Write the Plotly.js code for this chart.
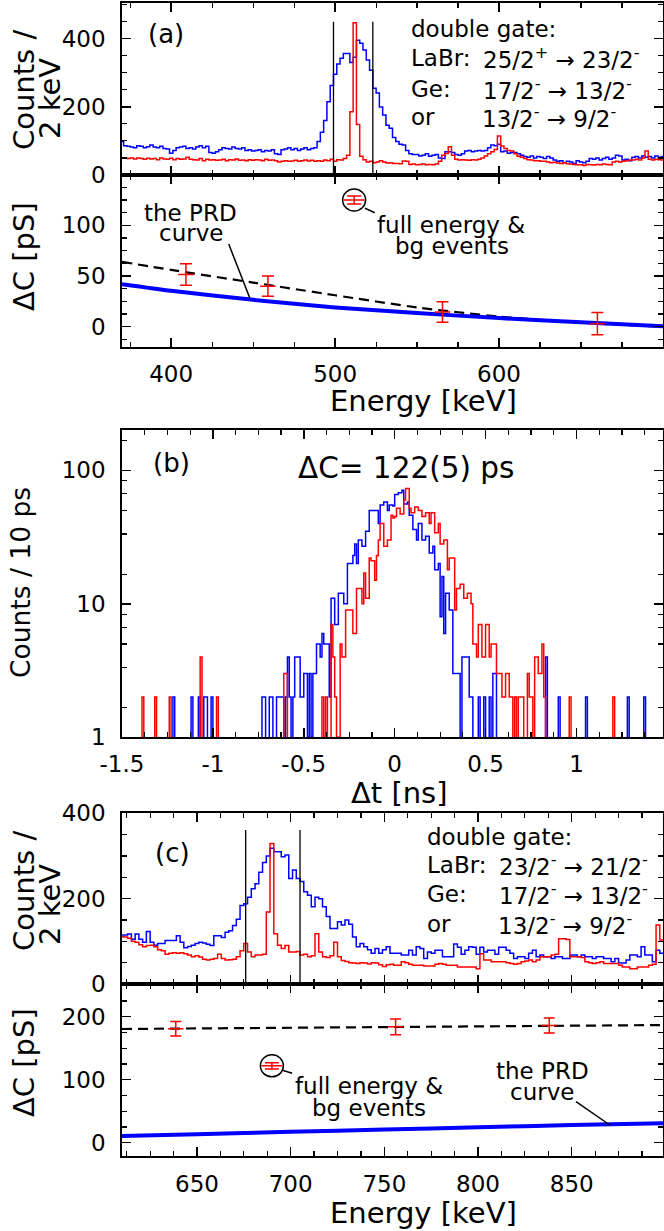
<!DOCTYPE html>
<html><head><meta charset="utf-8">
<script src="https://cdn.plot.ly/plotly-3.0.1.min.js"></script>
<style>html,body{margin:0;padding:0;background:#fff}#plot{width:664px;height:1231px}</style>
</head><body><div id="plot"></div><script>
// ---------------- DATA ----------------
// Panel (a): energy spectra, 2 keV bins, first bin lower edge 369 keV
const binStartA = 369, binWidthA = 2;
const blueA = [98,86,84,82,80,86,84,80,83,88, 82,80,84,78,76,64,72,80,82,84,
 78,80,76,82,86,80,84,66,64,68, 74,80,78,76,82,78,76,80,72,74,
 70,72,74,68,72,70,74,62,60,74, 76,80,74,78,72,76,80,74,78,80,
 98,125,160,215,262,295,325,342,356,356, 330,345,395,386,366,337,307,254,240,199,
 176,146,137,110,98,90,88,72,62,60, 60,56,58,62,55,58,60,50,48,68,
 68,66,60,58,62,70,72,68,70,72, 70,72,80,88,86,90,68,70,64,66,
 66,62,58,54,52,56,50,54,52,48, 54,50,44,40,42,36,40,38,34,42,
 38,36,40,48,46,50,44,48,52,46, 50,58,56,44,46,42,52,54,50,56,
 52,54,50,56,52,54];
const redA = [49,50,48,50,47,50,48,46,49,47, 48,45,50,47,46,49,45,48,46,47,
 52,46,45,44,48,42,46,44,45,43, 44,46,42,45,44,47,43,44,42,45,
 43,45,44,42,46,43,44,42,38,40, 42,40,41,43,40,42,44,41,43,40,
 42,40,44,42,46,40,45,44,48,58, 185,446,148,55,45,38,40,36,38,42,
 38,35,36,34,34,33,41,40,31,32, 30,31,32,30,31,30,32,40,58,63,
 83,58,46,44,45,44,43,45,44,46, 50,56,62,68,75,114,85,78,72,70,
 62,55,52,48,45,44,42,42,40,40, 38,36,37,35,34,36,33,32,31,30,
 30,28,31,30,29,31,30,32,31,30, 38,40,38,40,42,44,44,46,44,50,
 70,46,44,46,45,44];
const gatesA = [499, 523];

// Panel (a) lower: Delta C vs energy
const ptsA_E = [409, 459, 565.5, 660];
const ptsA_dC = [51.5, 40, 14.5, 3];
const ptsA_err = [10.5, 10, 10, 11];
const fullA_E = [511.6], fullA_dC = [125], fullA_err = [4];
const fitA_E = [370, 400, 450, 500, 550, 600, 650, 700];
const fitA = [64, 56, 43.5, 31, 19, 10, 4, 0];
const prdA = [42, 35.5, 26.5, 19, 13.5, 8.5, 4.5, 0.5];

// Panel (b): time differences, 10 ps bins from -1.5 ns
const binStartB = -1.5, binWidthB = 0.01;
const blueB = [0,0,0,0,0,0,0,0,0,0, 0,0,0,0,0,0,0,0,0,0,
 0,0,0,0,0,0,0,0,2,0, 0,0,0,0,0,0,0,0,2,0,
 0,0,2,0,0,2,2,0,0,2, 0,0,0,0,0,0,0,0,0,0,
 0,0,0,0,0,0,0,0,0,0, 0,0,0,0,0,0,0,2,2,0,
 0,2,2,0,0,2,2,2,2,0, 2,4,2,0,2,4,4,4,2,2,
 3,3,1,3,1,3,3,5,5,4, 6,5,5,5,2,11,11,7,7,12,
 12,12,10,10,20,20,20,23,28,20, 30,30,27,27,35,35,50,50,50,50,
 50,40,55,55,58,58,50,55,55,54, 66,66,68,68,71,56,56,58,46,46,
 36,36,30,40,40,30,30,32,32,24, 24,27,18,18,20,8,16,6,12,12,
 9,9,3,3,3,3,0,4,4,4, 4,2,2,0,0,0,2,0,0,2,
 0,0,2,0,3,3,0,0,0,0, 0,0,0,0,0,0,0,0,0,0,
 0,0,0,0,0,0,0,0,0,0, 0,0,0,4,0,0,0,0,0,0,
 2,0,0,0,0,0,0,0,0,0, 0,0,0,0,0,2,0,0,0,0,
 0,0,0,0,0,0,0,0,0,0, 0,0,0,0,0,0,0,0,2,0,
 0,0,0,0,0,0,0,2,0,0, 0,0,0,0,0,0,0,0];
const redB = [0,0,0,0,0,0,0,0,0,0, 0,2,0,0,0,0,0,0,2,0,
 0,0,0,0,0,0,2,0,0,0, 0,0,0,0,0,0,0,0,0,0,
 0,0,0,4,0,0,0,0,0,0, 0,0,2,0,0,0,0,0,0,0,
 0,0,0,0,0,0,0,0,0,0, 0,0,0,0,0,0,0,0,0,0,
 0,0,0,0,0,0,0,0,0,3, 3,0,0,0,0,0,0,0,0,0,
 0,0,0,0,0,0,0,0,0,0, 2,0,2,0,0,7,4,2,1,1,
 5,4,4,9,9,9,9,6,6,13, 13,13,10,17,11,11,22,21,21,15,
 23,30,40,40,27,27,30,30,46,44, 45,52,52,47,47,60,73,73,52,48,
 48,53,53,50,50,45,45,48,48,40, 48,48,34,34,40,28,28,30,30,18,
 22,22,22,9,13,13,14,14,11,11, 12,12,10,5,5,4,7,7,4,4,
 7,7,4,5,5,5,3,3,3,2, 2,3,3,2,2,0,2,0,2,2,
 2,0,0,3,2,2,0,4,4,3, 3,5,2,0,0,0,0,0,0,0,
 0,0,0,0,0,0,2,0,0,0, 0,0,0,0,0,0,0,0,0,0,
 0,0,0,0,0,0,0,0,0,0, 2,0,0,0,0,0,0,0,0,0,
 0,0,0,0,0,0,0,0,0,0, 0,0,0,0,0,0,0,0];

// Panel (c): energy spectra, 2 keV bins from 609 keV
const binStartC = 609, binWidthC = 2;
const blueC = [115,115,117,105,117,105,98,123,98,91, 95,95,102,102,102,113,98,85,88,91,
 95,98,96,93,90,113,113,109,121,125, 137,152,184,188,203,223,235,262,285,300,
 318,310,310,298,302,247,267,247,240,216, 208,181,203,200,181,158,130,130,146,138,
 150,140,110,87,95,87,80,72,83,72, 80,87,72,72,72,68,68,79,68,87,
 83,60,75,72,79,79,64,64,64,94, 86,70,79,87,86,70,86,75,79,79,
 70,86,86,79,72,60,64,64,60,72, 79,64,68,64,64,60,64,64,60,60,
 68,68,64,68,64,64,60,64,64,60, 60,52,60,49,49,56,68,68,64,87,
 68,68,52,79,72];
const redC = [111,110,107,100,98,92,87,90,91,87, 80,78,70,72,73,72,73,71,68,64,
 66,63,58,56,58,60,70,60,56,57, 58,64,78,95,75,64,68,68,70,169,
 329,118,91,83,90,75,75,76,68,70, 64,66,118,75,64,62,66,98,64,55,
 53,50,49,48,50,49,47,50,49,45, 41,45,46,44,44,52,50,46,44,44,
 44,42,42,42,46,48,46,44,44,44, 40,40,40,40,40,36,71,56,56,52,
 52,52,52,50,48,46,48,52,54,56, 52,56,64,64,64,68,70,106,106,104,
 64,64,64,62,52,50,48,50,52,48, 48,48,48,44,40,40,36,36,40,40,
 40,44,46,138,103];
const gatesC = [676, 705];

// Panel (c) lower
const ptsC_E = [638.7, 756, 838];
const ptsC_dC = [181, 184, 186];
const ptsC_err = [11.5, 12.5, 12];
const fullC_E = [690], fullC_dC = [122], fullC_err = [5];
const fitC_E = [610, 900];
const fitC = [180.5, 186.8];
const prdC_E = [610, 650, 700, 750, 800, 850, 900];
const prdC = [10.5, 13.5, 17.3, 21, 24.5, 28, 31];

// ---------------- DRAWING ----------------
const W = 664, H = 1231;
const X = p => p / W, Y = p => 1 - p / H;
const FONT = 'DejaVu Sans';
const BLUE = '#0000ff', RED = '#ff0000';

function steps(e0, w, c, floor) {
  const x = [], y = [];
  c.forEach((v, i) => { x.push(e0 + i * w); y.push(floor === undefined ? v : Math.max(v, floor)); });
  x.push(e0 + c.length * w); y.push(y[y.length - 1]);
  return {x, y};
}
function hist(e0, w, c, color, xa, ya, floor) {
  const s = steps(e0, w, c, floor);
  return {type:'scatter', mode:'lines', x:s.x, y:s.y, xaxis:xa, yaxis:ya,
    line:{color:color, width:1.5, shape:'hv'}, hoverinfo:'skip'};
}
function points(E, v, err, xa, ya, size, cap) {
  return {type:'scatter', mode:'markers', x:E, y:v, xaxis:xa, yaxis:ya,
    marker:{symbol:'line-ew-open', size:size, color:RED, line:{color:RED, width:1.5}},
    error_y:{type:'data', array:err, visible:true, color:RED, thickness:1.5, width:cap}};
}
function curve(E, v, xa, ya, color, width, dash) {
  return {type:'scatter', mode:'lines', x:E, y:v, xaxis:xa, yaxis:ya,
    line:{color:color, width:width, dash:dash || 'solid', shape:'spline', smoothing:0.6}};
}

const traces = [
  hist(binStartA, binWidthA, blueA, BLUE, 'x', 'y'),
  hist(binStartA, binWidthA, redA, RED, 'x', 'y'),
  curve(fitA_E, fitA, 'x2', 'y2', '#000', 2.2, '10px,6px'),
  curve(fitA_E, prdA, 'x2', 'y2', BLUE, 4),
  points(ptsA_E, ptsA_dC, ptsA_err, 'x2', 'y2', 11, 6),
  points(fullA_E, fullA_dC, fullA_err, 'x2', 'y2', 15, 7),
  hist(binStartB, binWidthB, blueB, BLUE, 'x3', 'y3', 0.3),
  hist(binStartB, binWidthB, redB, RED, 'x3', 'y3', 0.3),
  hist(binStartC, binWidthC, blueC, BLUE, 'x4', 'y4'),
  hist(binStartC, binWidthC, redC, RED, 'x4', 'y4'),
  curve(fitC_E, fitC, 'x5', 'y5', '#000', 2.2, '10px,6px'),
  curve(prdC_E, prdC, 'x5', 'y5', BLUE, 4),
  points(ptsC_E, ptsC_dC, ptsC_err, 'x5', 'y5', 11, 5.5),
  points(fullC_E, fullC_dC, fullC_err, 'x5', 'y5', 15, 7)
];

const tickFont = {family:FONT, size:23, color:'#000'};
function ax(extra, minor) {
  return Object.assign({showline:true, linecolor:'#000', linewidth:2, mirror:'ticks',
    ticks:'inside', ticklen:9, tickwidth:1.5, tickcolor:'#000', showgrid:false, zeroline:false,
    tickfont:tickFont, fixedrange:true,
    minor:Object.assign({ticks:'inside', ticklen:5, tickwidth:1.2, tickcolor:'#000', showgrid:false}, minor)}, extra);
}
const xd = [X(122), X(663)];
const SUF = '\u2005';
const YS = 4;
const layout = {
  width:W, height:H, margin:{l:0, r:0, t:0, b:0}, paper_bgcolor:'#fff', plot_bgcolor:'#fff',
  showlegend:false, hovermode:false,
  xaxis: ax({domain:xd, anchor:'y', range:[370,700], tick0:0, dtick:100, showticklabels:false}, {dtick:25, tick0:0}),
  yaxis: ax({domain:[Y(175), Y(3)], anchor:'x', range:[0,504], tick0:0, dtick:200, ticksuffix:SUF, ticklabelstandoff:YS}, {dtick:50, tick0:0}),
  xaxis2: ax({domain:xd, anchor:'y2', range:[370,700], tick0:0, dtick:100, ticklabelstandoff:6}, {dtick:25, tick0:0}),
  yaxis2: ax({domain:[Y(346.7), Y(175)], anchor:'x2', range:[-19.7,149.6], tick0:0, dtick:50, ticksuffix:SUF, ticklabelstandoff:YS}, {dtick:12.5, tick0:0}),
  xaxis3: ax({domain:xd, anchor:'y3', range:[-1.5,1.476], tickmode:'array',
    tickvals:[-1.5,-1,-0.5,0,0.5,1], ticktext:['-1.5','-1','-0.5','0','0.5','1'], ticklabelstandoff:5}, {dtick:0.125, tick0:0}),
  yaxis3: ax({domain:[Y(737.3), Y(430)], anchor:'x3', type:'log', range:[0,2.302], tickmode:'array',
    tickvals:[1,10,100], ticktext:['1'+SUF,'10'+SUF,'100'+SUF], ticklabelstandoff:YS},
    {tickmode:'array', tickvals:[1.667,3.333,5,6.667,8.333,16.67,33.33,50,66.67,83.33,166.7]}),
  xaxis4: ax({domain:xd, anchor:'y4', range:[610,898.7], tick0:0, dtick:50, showticklabels:false}, {dtick:12.5, tick0:0}),
  yaxis4: ax({domain:[Y(984), Y(813.3)], anchor:'x4', range:[0,400], tick0:0, dtick:200, ticksuffix:SUF, ticklabelstandoff:YS}, {dtick:50, tick0:0}),
  xaxis5: ax({domain:xd, anchor:'y5', range:[610,898.7], tick0:0, dtick:50, ticklabelstandoff:7}, {dtick:12.5, tick0:0}),
  yaxis5: ax({domain:[Y(1155.7), Y(984)], anchor:'x5', range:[-20.6,251.9], tick0:0, dtick:100, ticksuffix:SUF, ticklabelstandoff:YS}, {dtick:25, tick0:0}),
  shapes:[], annotations:[]
};

gatesA.forEach(g => layout.shapes.push({type:'line', xref:'x', yref:'y', x0:g, x1:g, y0:0, y1:449, line:{color:'#000', width:1.3}}));
gatesC.forEach(g => layout.shapes.push({type:'line', xref:'x4', yref:'y4', x0:g, x1:g, y0:0, y1:361, line:{color:'#000', width:1.3}}));
function circ(xr, yr, xa, ya) {
  return {type:'circle', xref:xr, yref:yr, xsizemode:'pixel', ysizemode:'pixel', xanchor:xa, yanchor:ya,
    x0:-11.5, x1:11.5, y0:-11, y1:11, line:{color:'#000', width:1.5}};
}
layout.shapes.push(circ('x2', 'y2', fullA_E[0], fullA_dC[0]));
layout.shapes.push(circ('x5', 'y5', fullC_E[0], fullC_dC[0]));
function seg(x0, y0, x1, y1) {
  return {type:'line', xref:'paper', yref:'paper', x0:X(x0), y0:Y(y0), x1:X(x1), y1:Y(y1), line:{color:'#000', width:1.5}};
}
layout.shapes.push(seg(228.7, 244, 249.9, 298.3));
layout.shapes.push(seg(365, 208.3, 374.8, 212.7));
layout.shapes.push(seg(281.6, 1070, 292.2, 1073.3));
layout.shapes.push(seg(576, 1101.7, 609.8, 1125));

function txt(s, x, y, size, xanchor, angle) {
  layout.annotations.push({text:s, xref:'paper', yref:'paper', x:X(x), y:Y(y), showarrow:false,
    xanchor:xanchor || 'center', yanchor:'middle', textangle:angle || 0,
    font:{family:FONT, size:size, color:'#000'}});
}
// panel labels
txt('(a)', 166, 34, 26);
txt('(b)', 171, 463, 26);
txt('(c)', 172, 853, 26);
txt('ΔC= 122(5) ps', 296, 468, 29.5, 'left');
// gate text (a)
const G = 23;
txt('double gate:', 409, 28.5, G, 'left');
txt('LaBr:', 409, 58.5, G, 'left');
txt('Ge:', 409, 88.5, G, 'left');
txt('or', 409, 117, G, 'left');
txt('25/2<sup>+</sup> → 23/2<sup>-</sup>', 480.7, 58.5, G, 'left');
txt('17/2<sup>-</sup> → 13/2<sup>-</sup>', 480.7, 88.5, G, 'left');
txt('13/2<sup>-</sup> → 9/2<sup>-</sup>', 479.5, 117, G, 'left');
// gate text (c)
txt('double gate:', 425, 836.7, G, 'left');
txt('LaBr:', 425, 865, G, 'left');
txt('Ge:', 425, 894, G, 'left');
txt('or', 425, 923.5, G, 'left');
txt('23/2<sup>-</sup> → 21/2<sup>-</sup>', 496.7, 865, G, 'left');
txt('17/2<sup>-</sup> → 13/2<sup>-</sup>', 496.7, 894, G, 'left');
txt('13/2<sup>-</sup> → 9/2<sup>-</sup>', 495.5, 923.5, G, 'left');
// callouts
txt('the PRD', 190.6, 212.7, G);
txt('curve', 190.6, 233.3, G);
txt('full energy &', 451, 225, G);
txt('bg events', 452, 246.5, G);
txt('full energy &', 368.5, 1086, G);
txt('bg events', 368.5, 1108, G);
txt('the PRD', 542, 1071, G);
txt('curve', 542, 1092, G);
// axis titles
txt('Energy [keV]', 423, 401, 29);
txt('Δt [ns]', 399, 793, 29);
txt('Energy [keV]', 423, 1212.5, 29);
txt('Counts /', 24, 90, 29, 'center', -90);
txt('2 keV', 50, 99, 29, 'center', -90);
txt('ΔC [pS]', 24, 257, 29, 'center', -90);
txt('Counts / 10 ps', 20, 583, 26.5, 'center', -90);
txt('Counts /', 24, 891, 29, 'center', -90);
txt('2 keV', 50, 905, 29, 'center', -90);
txt('ΔC [pS]', 24, 1063, 29, 'center', -90);

Plotly.newPlot('plot', traces, layout, {displayModeBar:false, staticPlot:true});
</script></body></html>
